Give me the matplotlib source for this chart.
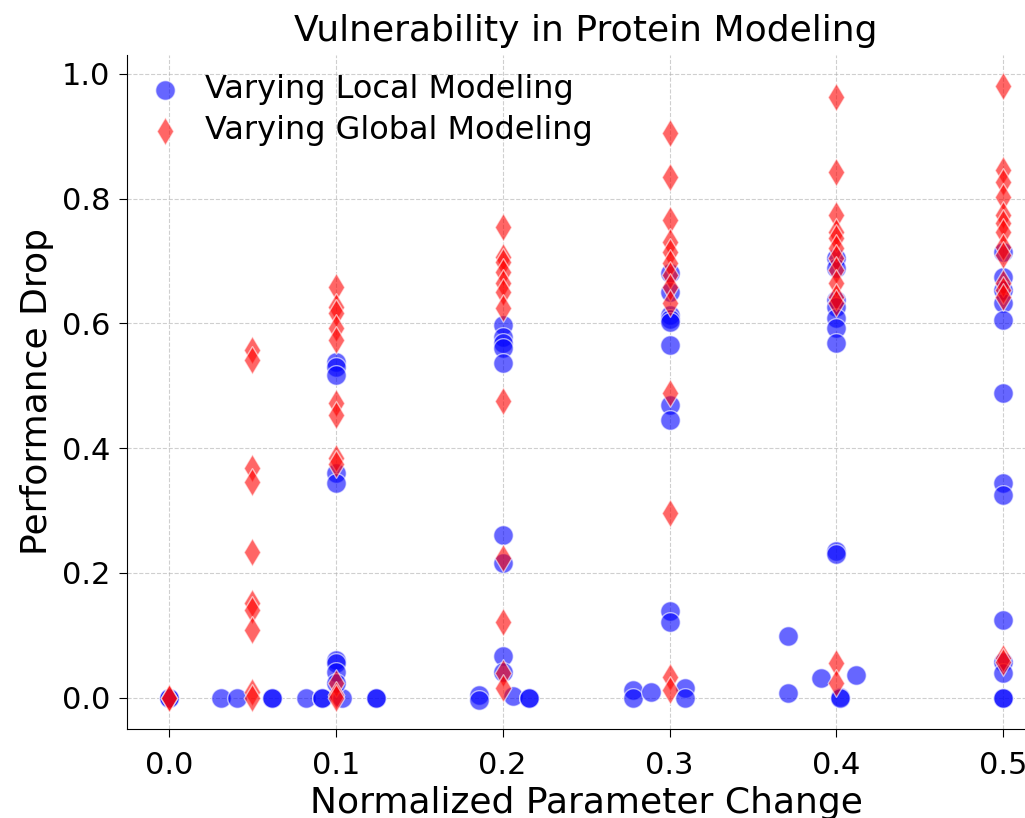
import numpy as np
import matplotlib
matplotlib.use("Agg")
import matplotlib.pyplot as plt

# Varying local modeling (blue circles): x positions and performance drops
local_x = [
    0.0, 0.0,
    0.031, 0.041, 0.062, 0.062, 0.082, 0.092, 0.092, 0.104, 0.124, 0.124,
    0.1, 0.1, 0.1, 0.1, 0.1, 0.1, 0.1, 0.1, 0.1,
    0.186, 0.186,
    0.2, 0.2, 0.2, 0.2, 0.2, 0.2, 0.2, 0.2, 0.2,
    0.206, 0.216, 0.216,
    0.278, 0.278, 0.289,
    0.3, 0.3, 0.3, 0.3, 0.3, 0.3, 0.3, 0.3, 0.3, 0.3,
    0.309, 0.309,
    0.371, 0.371, 0.391,
    0.4, 0.4, 0.4, 0.4, 0.4, 0.4, 0.4, 0.4, 0.4,
    0.402, 0.402, 0.412,
    0.5, 0.5, 0.5, 0.5, 0.5, 0.5, 0.5, 0.5, 0.5, 0.5, 0.5, 0.5, 0.5,
]
local_y = [
    0.0, 0.0,
    0.0, 0.0, 0.0, 0.0, 0.0, 0.0, 0.0, 0.0, 0.0, 0.0,
    0.538, 0.53, 0.517, 0.36, 0.344, 0.061, 0.055, 0.042, 0.024,
    0.004, -0.003,
    0.597, 0.578, 0.568, 0.56, 0.536, 0.261, 0.216, 0.067, 0.042,
    0.003, 0.0, 0.0,
    0.013, 0.0, 0.01,
    0.68, 0.65, 0.613, 0.607, 0.602, 0.566, 0.469, 0.445, 0.139, 0.122,
    0.016, 0.0,
    0.099, 0.008, 0.032,
    0.704, 0.688, 0.637, 0.626, 0.608, 0.592, 0.568, 0.235, 0.23,
    0.001, 0.0, 0.037,
    0.714, 0.674, 0.653, 0.632, 0.606, 0.488, 0.344, 0.325, 0.125, 0.058, 0.04, 0.0, 0.0,
]

# Varying global modeling (red diamonds)
global_x = (
    [0.0] * 2
    + [0.05] * 10
    + [0.1] * 12
    + [0.2] * 12
    + [0.3] * 13
    + [0.4] * 13
    + [0.5] * 14
)
global_y = [
    0.0, 0.0,
    0.557, 0.541, 0.368, 0.346, 0.234, 0.152, 0.14, 0.109, 0.01, 0.0,
    0.658, 0.626, 0.616, 0.592, 0.573, 0.472, 0.453, 0.384, 0.375, 0.024, 0.005, 0.0,
    0.755, 0.706, 0.698, 0.682, 0.664, 0.65, 0.624, 0.475, 0.224, 0.122, 0.04, 0.016,
    0.905, 0.835, 0.765, 0.73, 0.714, 0.696, 0.677, 0.658, 0.632, 0.488, 0.296, 0.034, 0.013,
    0.963, 0.843, 0.773, 0.746, 0.736, 0.72, 0.704, 0.685, 0.664, 0.642, 0.632, 0.056, 0.024,
    0.981, 0.845, 0.826, 0.802, 0.773, 0.76, 0.746, 0.722, 0.709, 0.664, 0.653, 0.642, 0.064, 0.058,
]

x_ticks = [0.0, 0.1, 0.2, 0.3, 0.4, 0.5]
y_ticks = [0.0, 0.2, 0.4, 0.6, 0.8, 1.0]

fig = plt.figure(figsize=(10.25, 8.18), dpi=100)
ax = fig.add_axes([0.124, 0.1088, 0.8956, 0.824])

ax.scatter(local_x, local_y, s=200, marker="o", color="blue", alpha=0.6,
           edgecolors="white", linewidths=1, label="Varying Local Modeling", zorder=3)
ax.scatter(global_x, global_y, s=200, marker="d", color="red", alpha=0.6,
           edgecolors="white", linewidths=1, label="Varying Global Modeling", zorder=4)

ax.set_xlim(-0.025, 0.525)
ax.set_ylim(-0.05, 1.03)
ax.set_xticks(x_ticks)
ax.set_yticks(y_ticks)
ax.tick_params(axis="both", labelsize=22, length=6, pad=6)
ax.tick_params(axis="x", pad=10)

ax.set_title("Vulnerability in Protein Modeling", fontsize=26, pad=10)
ax.set_xlabel("Normalized Parameter Change", fontsize=26, labelpad=4)
ax.set_ylabel("Performance Drop", fontsize=26, labelpad=6)

ax.grid(True, linestyle="--", color="#b0b0b0", alpha=0.6, zorder=0)
ax.set_axisbelow(True)
ax.spines["top"].set_visible(False)
ax.spines["right"].set_visible(False)

ax.legend(loc="upper left", bbox_to_anchor=(0.0, 0.99), fontsize=23, frameon=False,
          handlelength=1.6, handletextpad=0.45, borderaxespad=0.0, labelspacing=0.3)

fig.savefig("out.png", dpi=100)
